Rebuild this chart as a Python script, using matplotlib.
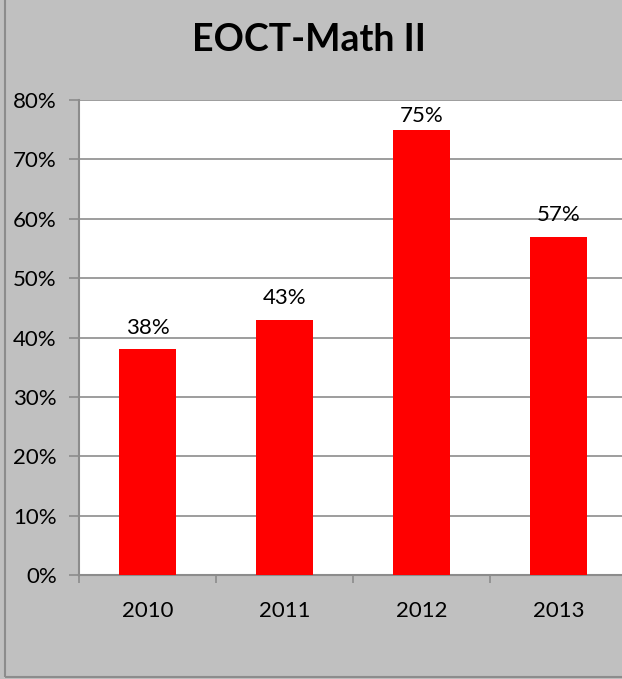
import numpy as np
import matplotlib.pyplot as plt
from matplotlib.patches import Rectangle
from matplotlib.ticker import FuncFormatter

years = ['2010', '2011', '2012', '2013']
scores = [38, 43, 75, 57]
title = 'EOCT-Math II'

plt.rcParams['font.family'] = ['Lato', 'DejaVu Sans']

W, H = 622, 679
fig = plt.figure(figsize=(W / 100, H / 100), dpi=100, facecolor='#c0c0c0')

# plot area runs off the right edge of the picture
ax = fig.add_axes([79 / W, 1 - 575 / H, 548 / W, 475 / H])
ax.set_facecolor('white')

x = np.arange(len(years))
ax.bar(x, scores, width=0.41, color='#ff0000', zorder=3)
for xi, v in zip(x, scores):
    # labels near the top get pushed down to stay inside the plot area
    ax.text(xi, min(v + 2.0, 75.7), f'{v}%', ha='center', va='bottom',
            fontsize=16, color='black')

ax.set_xlim(-0.5, len(years) - 0.5)
ax.set_ylim(0, 80)
ax.set_yticks(np.arange(0, 81, 10))
ax.yaxis.set_major_formatter(FuncFormatter(lambda v, p: f'{int(v)}%'))
ax.grid(axis='y', color='#8c8c8c', linewidth=1.2, zorder=0)

ax.set_xticks(x)
ax.set_xticklabels(years)
ax.set_xticks(np.arange(-0.5, len(years), 1), minor=True)
ax.tick_params(axis='x', which='major', length=0, pad=19, labelsize=16)
ax.tick_params(axis='x', which='minor', length=6, color='#8c8c8c', width=1.2)
ax.tick_params(axis='y', length=7, color='#8c8c8c', width=1.2, pad=9, labelsize=16)

for side in ['top', 'right']:
    ax.spines[side].set_visible(False)
for side in ['left', 'bottom']:
    ax.spines[side].set_color('#8c8c8c')
    ax.spines[side].set_linewidth(1.5)

fig.text(309 / W, 1 - 40 / H, title, ha='center', va='center',
         fontsize=27, fontweight='bold')

# chart border (left and bottom edges visible in the crop)
fig.add_artist(Rectangle((4.5 / W, 2 / H), 1.2, 1.2, transform=fig.transFigure,
                         fill=False, edgecolor='#8c8c8c', linewidth=1.5))

fig.savefig('out.png', dpi=100, facecolor=fig.get_facecolor())
